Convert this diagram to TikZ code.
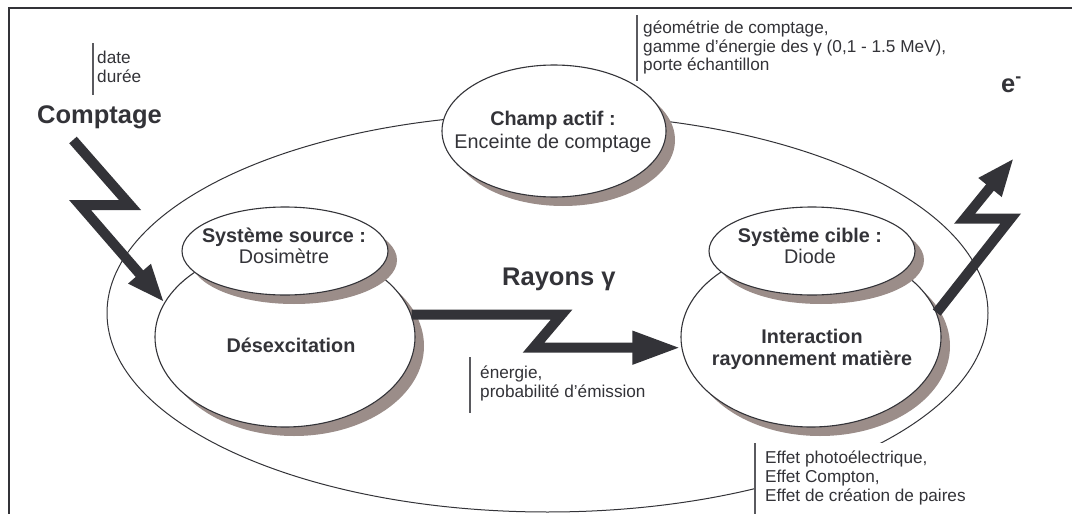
\documentclass[tikz,border=0pt]{standalone}
\usepackage{fontspec}
\setmainfont{Liberation Sans}
\usetikzlibrary{shapes.geometric,shadows,arrows.meta}
\definecolor{ink}{RGB}{51,51,56}
\definecolor{shade}{RGB}{155,141,137}
\definecolor{barc}{RGB}{90,90,95}
\begin{document}
\begin{tikzpicture}[x=1pt,y=-1pt,
  oval/.style={ellipse,draw=ink,line width=1.1pt,fill=white,inner sep=0pt},
  shadowed/.style={drop shadow={shadow xshift=9pt,shadow yshift=-9pt,fill=shade,opacity=1}},
  bolt/.style={draw=ink,line width=10pt,line join=miter,line cap=butt},
  bigtxt/.style={font=\fontsize{25.5}{28}\selectfont\bfseries,text=ink,inner sep=0pt,anchor=base west},
  midtxt/.style={font=\fontsize{19.8}{22}\selectfont,text=ink,inner sep=0pt,anchor=base},
  midbold/.style={font=\fontsize{19.8}{22}\selectfont\bfseries,text=ink,inner sep=0pt,anchor=base},
  smalltxt/.style={font=\fontsize{17.2}{19}\selectfont,text=ink,inner sep=0pt,anchor=base west},
  sidebar/.style={draw=barc,line width=1.3pt}]
\useasboundingbox (0,0) rectangle (1072,514);
\fill[white] (0,0) rectangle (1072,514);
% frame
\draw[ink,line width=2.5pt,line join=miter] (9,514) -- (9,8) -- (1072,8);
% field ellipse
\node[ellipse,draw=ink,line width=1pt,minimum width=881pt,minimum height=398pt,inner sep=0pt] (field) at (547.5,313) {};
% ellipses
\node[oval,shadowed,minimum width=224pt,minimum height=132pt] (champ) at (554,131) {};
\node[oval,shadowed,minimum width=260pt,minimum height=180pt] (desex) at (285,337) {};
\node[oval,shadowed,minimum width=206pt,minimum height=88pt] (source) at (285,251) {};
\node[oval,shadowed,minimum width=260pt,minimum height=180pt] (inter) at (811,337) {};
\node[oval,shadowed,minimum width=206pt,minimum height=88pt] (cible) at (812,251) {};
% ellipse texts
\node[midbold] (champA) at (553,125) {Champ actif :};
\node[midtxt] (champB) at (553,148) {Enceinte de comptage};
\node[midbold] (sourceA) at (284,242) {Système source :};
\node[midtxt] (sourceB) at (284,263) {Dosimètre};
\node[midbold] (desexA) at (291,352) {Désexcitation};
\node[midbold] (cibleA) at (810,242) {Système cible :};
\node[midtxt] (cibleB) at (810,263) {Diode};
\node[midbold] (interA) at (812,343) {Interaction};
\node[midbold] (interB) at (812,365) {rayonnement matière};
% big labels
\node[bigtxt] (comptage) at (37,123) {Comptage};
\node[bigtxt] (rayons) at (502,285) {Rayons γ};
\node[bigtxt] (elec) at (1001,92) {e\textsuperscript{-}};
% side notes
\draw[sidebar] (93,43) -- (93,95);
\node[smalltxt] (n1a) at (97,63) {date};
\node[smalltxt] (n1b) at (97,82) {durée};
\draw[sidebar] (637,15) -- (637,81);
\node[smalltxt] (n2a) at (643,33) {géométrie de comptage,};
\node[smalltxt] (n2b) at (643,52) {gamme d'énergie des γ (0,1 - 1.5 MeV),};
\node[smalltxt] (n2c) at (643,70) {porte échantillon};
\draw[sidebar] (470,357) -- (470,413);
\node[smalltxt] (n3a) at (480,378) {énergie,};
\node[smalltxt] (n3b) at (480,397) {probabilité d'émission};
\fill[white] (755,443) rectangle (1010,514);
\draw[sidebar] (755,443) -- (755,514);
\node[smalltxt] (n4a) at (765,463) {Effet photoélectrique,};
\node[smalltxt] (n4b) at (765,482) {Effet Compton,};
\node[smalltxt] (n4c) at (765,501) {Effet de création de paires};
% bolts
\coordinate (cStart) at (73,140);
\coordinate (eTip) at (1014,158);
\draw[bolt,-{Triangle[length=38pt,width=27pt]}] (cStart) -- ++(57,65) -- ++(-50,0) -- (desex.164);
\draw[bolt,-{Triangle[length=48pt,width=31pt]}] (desex.10) -- ++(150,0) coordinate (r0) -- ++(-28,33) coordinate (r1) -- (inter.west |- r1);
\draw[bolt,-{Triangle[length=38pt,width=27pt]}] (inter.11) -- ++(74,-94) -- ++(-46,0) -- (eTip);
\end{tikzpicture}
\end{document}
